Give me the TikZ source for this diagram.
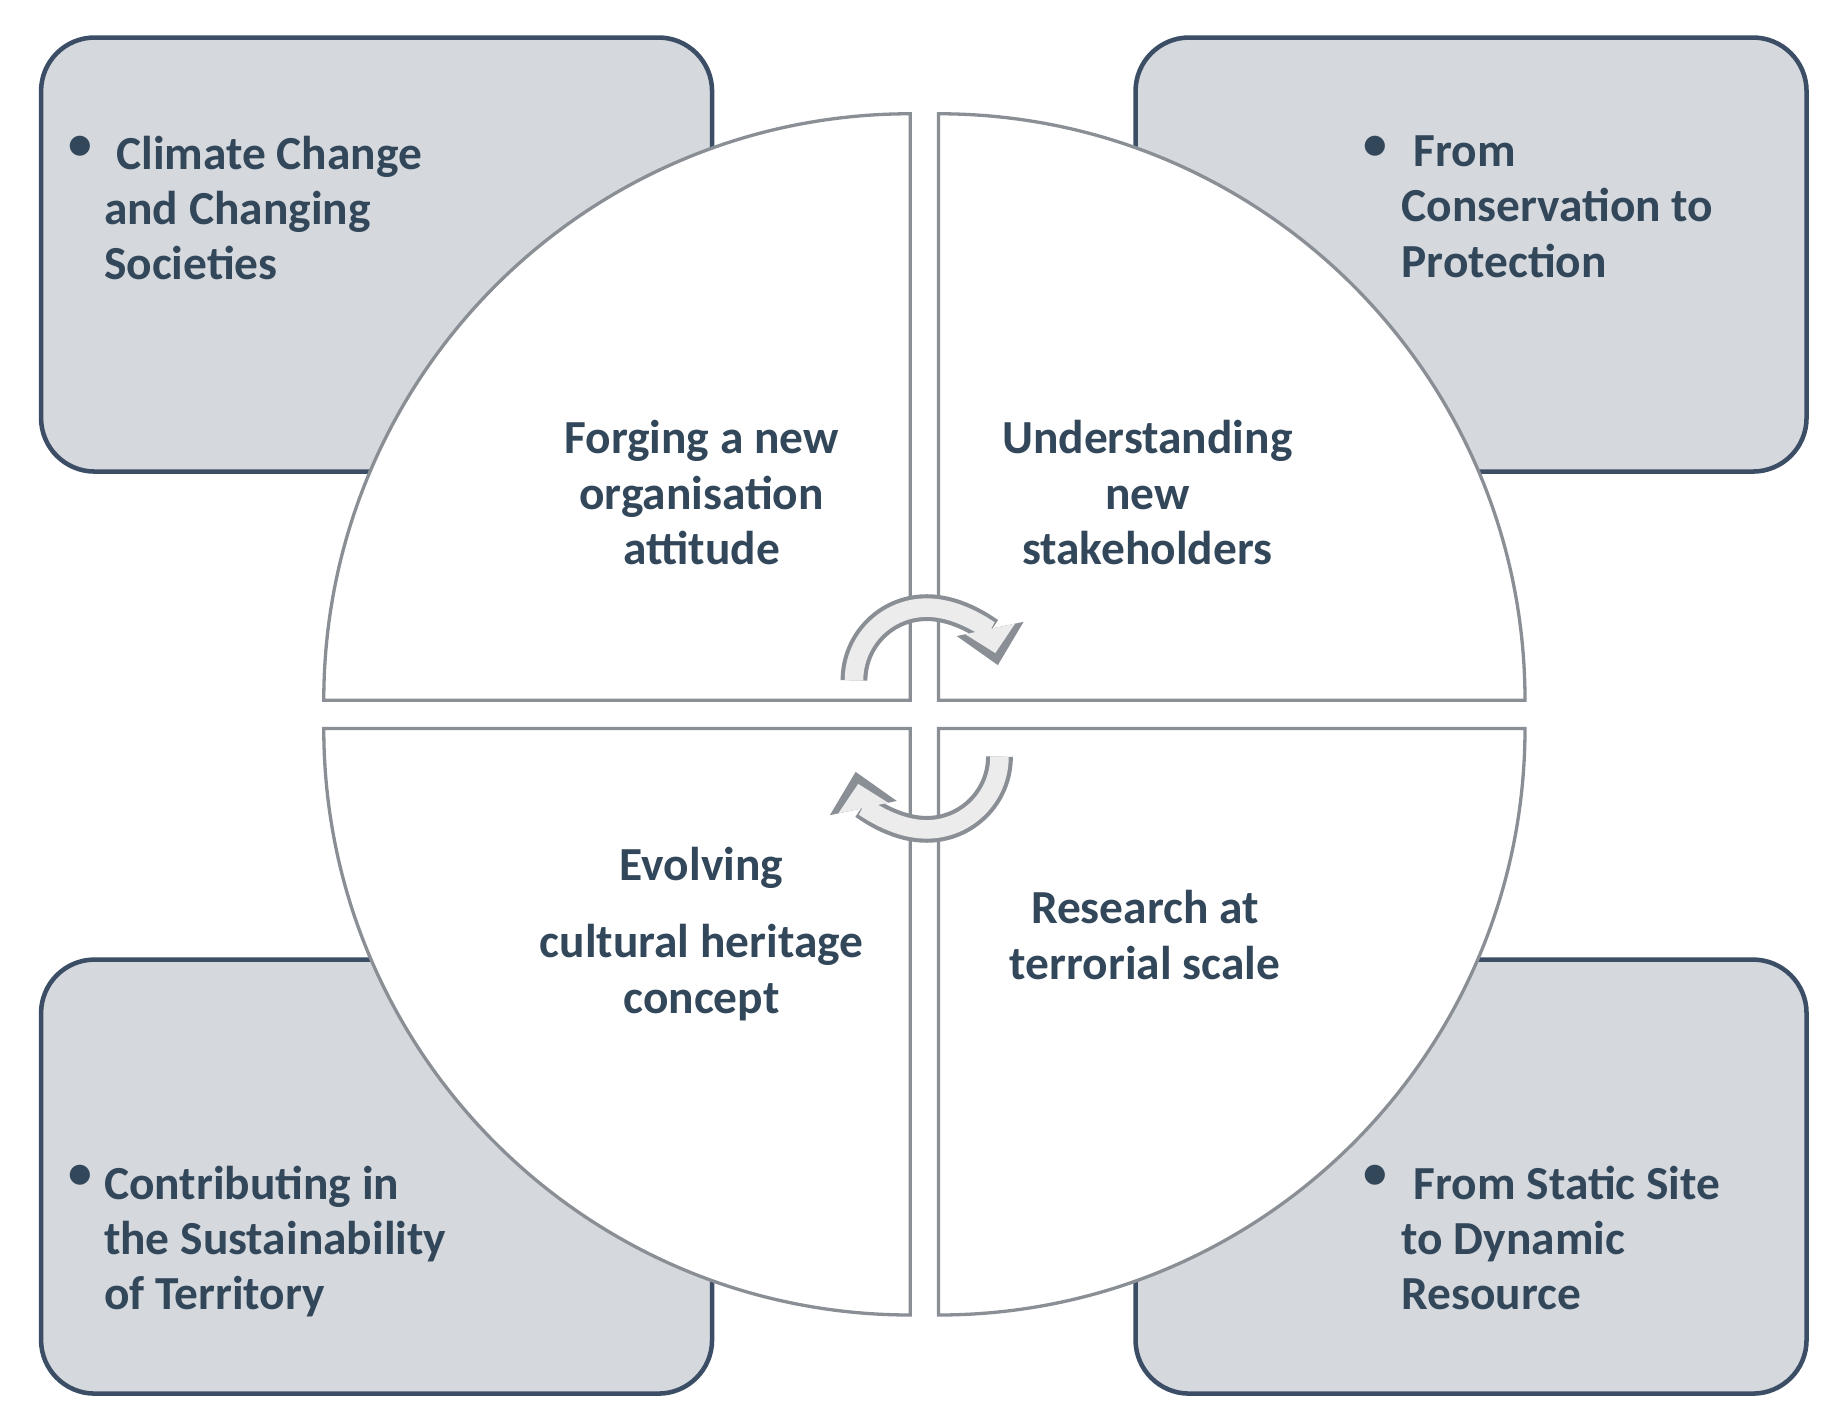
\documentclass[tikz,border=0pt]{standalone}
\usepackage{fontspec}
\setmainfont{Carlito}
\usetikzlibrary{arrows.meta}
\definecolor{boxfill}{HTML}{D5D8DC}
\definecolor{boxline}{HTML}{3B4E66}
\definecolor{txt}{HTML}{33475B}
\definecolor{qline}{HTML}{8A8F95}
\tikzset{
  outerbox/.style={draw=boxline,line width=1.1pt,fill=boxfill,rounded corners=13pt},
  quarter/.style={draw=qline,line width=0.8pt,fill=white},
  qtext/.style={text=txt,font=\bfseries\fontsize{11.5}{13.4}\selectfont,align=center},
  btext/.style={text=txt,font=\bfseries\fontsize{11.5}{13.4}\selectfont,align=left,anchor=north west,inner sep=0pt},
  bul/.style={text=txt,font=\bfseries\fontsize{11.5}{13.4}\selectfont,anchor=north west,inner sep=0pt},
  arrout/.style={line width=6.5pt,draw=qline,-{Triangle[length=9pt,width=16pt]}},
  arrin/.style={line width=4.5pt,draw=gray!15,shorten >=3pt,-{Triangle[length=6pt,width=12pt]}}
}
\begin{document}
\begin{tikzpicture}[x=0.01cm,y=0.01cm]
\useasboundingbox (0,0) rectangle (1560,1203);
% boxes
\draw[outerbox] (35,801) rectangle (607,1171);
\draw[outerbox] (968,801) rectangle (1540,1171);
\draw[outerbox] (35,15) rectangle (607,385);
\draw[outerbox] (968,15) rectangle (1540,385);
% quarters
\draw[quarter] (776,606) -- (276,606) arc (180:90:500) -- cycle;
\draw[quarter] (800,606) -- (1300,606) arc (0:90:500) -- cycle;
\draw[quarter] (776,582) -- (276,582) arc (180:270:500) -- cycle;
\draw[quarter] (800,582) -- (1300,582) arc (0:-90:500) -- cycle;
% box texts
\node[bul] (b1) at (58,1088) {•};
\node[btext] (t1) at (88,1088) {\hspace{3pt}Climate Change\\and Changing\\Societies};
\node[bul] (b2) at (1162,1088) {•};
\node[btext] (t2) at (1194,1088) {\hspace{3pt}From\\Conservation to\\Protection};
\node[bul] (b3) at (58,210) {•};
\node[btext] (t3) at (88,210) {Contributing in\\the Sustainability\\of Territory};
\node[bul] (b4) at (1162,210) {•};
\node[btext] (t4) at (1194,210) {\hspace{3pt}From Static Site\\to Dynamic\\Resource};
% quarter texts
\node[qtext] (q1) at (598,783) {Forging a new\\organisation\\attitude};
\node[qtext] (q2) at (978,783) {Understanding\\new\\stakeholders};
\node[qtext] (q3a) at (598,463) {Evolving};
\node[qtext] (q3) at (598,374) {cultural heritage\\concept};
\node[qtext] (q4) at (976,406) {Research at\\terrorial scale};
% cycle arrows
\coordinate (c1) at (790,623);
\coordinate (c2) at (790,558);
\draw[arrout] (728,623) arc (180:12:62);
\draw[arrin] (728,623) arc (180:12:62);
\draw[arrout] (852,558) arc (0:-168:62);
\draw[arrin] (852,558) arc (0:-168:62);
\end{tikzpicture}
\end{document}
